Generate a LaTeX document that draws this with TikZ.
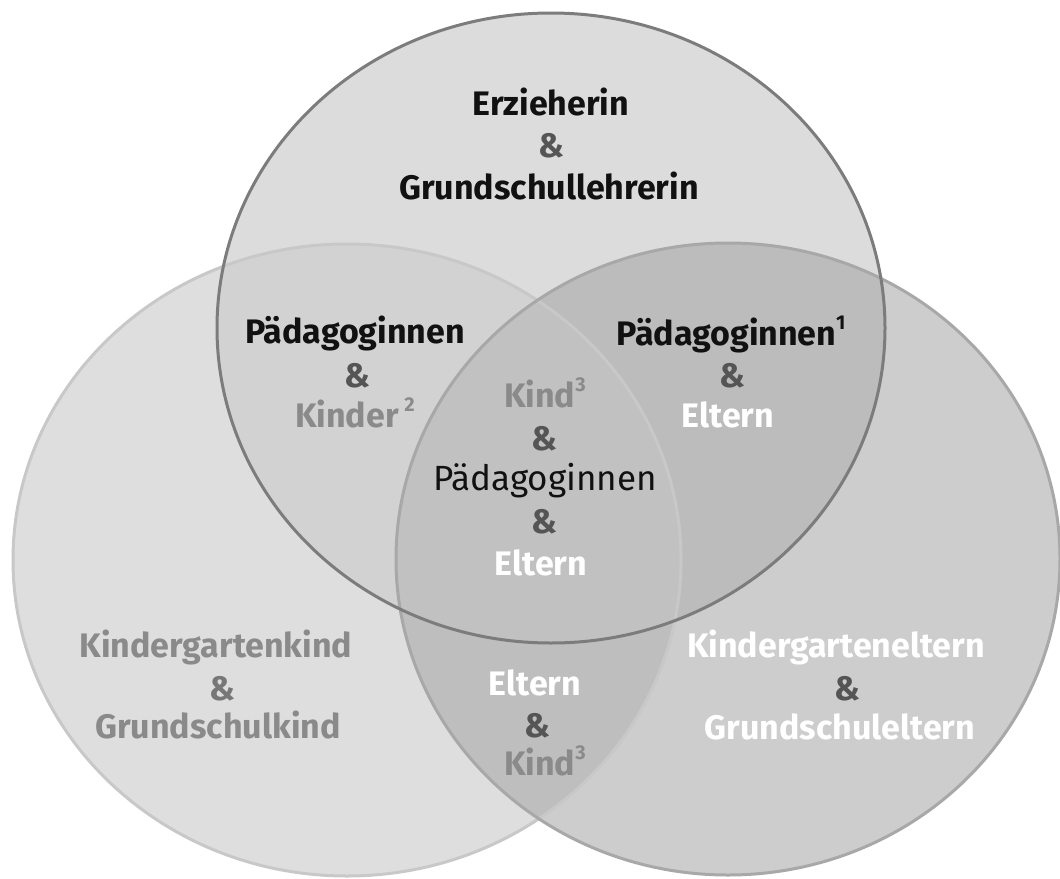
\documentclass[tikz,border=0pt]{standalone}
\usepackage{fontspec}
\setmainfont{Fira Sans}
\definecolor{cT}{HTML}{DCDCDC}
\definecolor{cL}{HTML}{DEDEDE}
\definecolor{cR}{HTML}{CDCDCD}
\definecolor{cTL}{HTML}{D2D2D2}
\definecolor{cTR}{HTML}{BCBCBC}
\definecolor{cLR}{HTML}{BEBEBE}
\definecolor{cC}{HTML}{C1C1C1}
\definecolor{oT}{HTML}{7C7C7C}
\definecolor{oL}{HTML}{C8C8C8}
\definecolor{oR}{HTML}{A8A8A8}
\definecolor{tBlack}{HTML}{111111}
\definecolor{tAmp}{HTML}{555555}
\definecolor{tAmpL}{HTML}{777777}
\definecolor{tGray}{HTML}{8A8A8A}
\newcommand{\supnum}[1]{\raisebox{0.45em}{\fontsize{20}{20}\selectfont #1}}
\begin{document}
\begin{tikzpicture}[x=1pt,y=-1pt,
  lbl/.style={anchor=base, inner sep=0pt, font=\bfseries\fontsize{34}{34}\selectfont},
  lblreg/.style={anchor=base, inner sep=0pt, font=\fontsize{35}{35}\selectfont},
  blk/.style={text=tBlack},
  amp/.style={text=tAmp},
  ampl/.style={text=tAmpL},
  gry/.style={text=tGray},
  wht/.style={text=white},
  ring/.style={line width=3pt}
]
\useasboundingbox (0,0) rectangle (1060,878);
\def\pT{(551,328) ellipse [x radius=334pt, y radius=315pt]}
\def\pL{(347,560) ellipse [x radius=334pt, y radius=316pt]}
\def\pR{(728,559) ellipse [x radius=332pt, y radius=316pt]}
% region fills
\fill[cL] \pL;
\fill[cR] \pR;
\fill[cT] \pT;
\begin{scope}
  \clip \pL;
  \fill[cLR] \pR;
\end{scope}
\begin{scope}
  \clip \pT;
  \fill[cTL] \pL;
  \fill[cTR] \pR;
\end{scope}
\begin{scope}
  \clip \pT;
  \clip \pL;
  \fill[cC] \pR;
\end{scope}
% outlines
\draw[ring, oL] \pL;
\draw[ring, oR] \pR;
\draw[ring, oT] \pT;
% top circle
\node[lbl, blk] (t1) at (551,115) {Erzieherin};
\node[lbl, amp] (t2) at (551,157) {\&};
\node[lbl, blk] (t3) at (549,199) {Grundschullehrerin};
% top-left overlap
\node[lbl, blk] (tl1) at (355,343) {Pädagoginnen};
\node[lbl, amp] (tl2) at (357,387) {\&};
\node[lbl, gry] (tl3) at (355,427) {Kinder\,\supnum{2}};
% top-right overlap
\node[lbl, blk] (tr1) at (731,345) {Pädagoginnen\supnum{1}};
\node[lbl, amp] (tr2) at (732,387) {\&};
\node[lbl, wht] (tr3) at (728,427) {Eltern};
% center
\node[lbl, gry] (c1) at (545,407) {Kind\supnum{3}};
\node[lbl, amp] (c2) at (544,450) {\&};
\node[lblreg, blk] (c3) at (545,490) {Pädagoginnen};
\node[lbl, amp] (c4) at (544,533) {\&};
\node[lbl, wht] (c5) at (541,575) {Eltern};
% left circle
\node[lbl, gry] (l1) at (216,657) {Kindergartenkind};
\node[lbl, ampl] (l2) at (222,700) {\&};
\node[lbl, gry] (l3) at (218,738) {Grundschulkind};
% bottom lens
\node[lbl, wht] (b1) at (535,695) {Eltern};
\node[lbl, amp] (b2) at (537,737) {\&};
\node[lbl, gry] (b3) at (545,775) {Kind\supnum{3}};
% right circle
\node[lbl, wht] (r1) at (836,657) {Kindergarteneltern};
\node[lbl, amp] (r2) at (847,700) {\&};
\node[lbl, wht] (r3) at (840,739) {Grundschuleltern};
\end{tikzpicture}
\end{document}
